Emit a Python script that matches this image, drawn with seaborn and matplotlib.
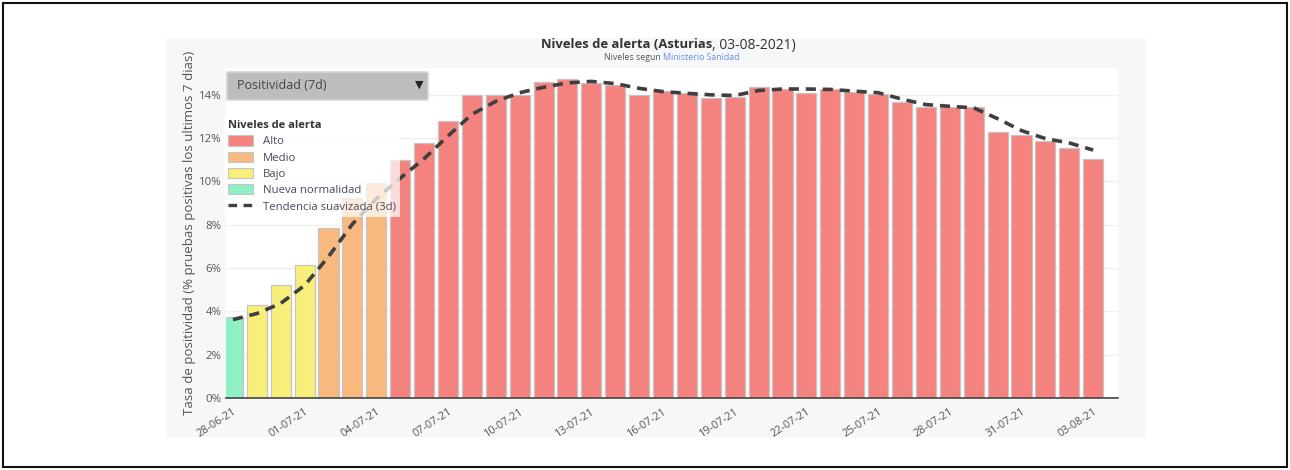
import numpy as np
import pandas as pd
import matplotlib
matplotlib.use("Agg")
import matplotlib.pyplot as plt
import seaborn as sns
from matplotlib.patches import Rectangle, Patch, FancyBboxPatch
from matplotlib.lines import Line2D

# ---------------- data ----------------
fechas = ["28-06-21", "29-06-21", "30-06-21"] + \
         [f"{d:02d}-07-21" for d in range(1, 32)] + \
         ["01-08-21", "02-08-21", "03-08-21"]

positividad = [3.76, 4.28, 5.20, 6.13, 7.85, 9.22, 9.95, 11.00, 11.76, 12.81,
               14.00, 14.00, 14.00, 14.58, 14.73, 14.53, 14.46, 14.00, 14.18, 14.07,
               13.84, 13.92, 14.38, 14.26, 14.07, 14.27, 14.15, 14.03, 13.67, 13.43,
               13.46, 13.43, 12.29, 12.13, 11.86, 11.56, 11.05]

tendencia = [3.62, 3.90, 4.37, 5.20, 6.53, 8.03, 9.20, 10.15, 11.05, 12.10,
             13.10, 13.70, 14.10, 14.35, 14.55, 14.62, 14.52, 14.30, 14.15, 14.07,
             14.00, 13.97, 14.20, 14.27, 14.27, 14.25, 14.17, 14.10, 13.80, 13.55,
             13.47, 13.40, 12.90, 12.35, 11.98, 11.78, 11.45]

niveles = ["Nueva normalidad"] + ["Bajo"] * 3 + ["Medio"] * 3 + ["Alto"] * 30

orden_niveles = ["Alto", "Medio", "Bajo", "Nueva normalidad"]
colores_niveles = ["#F4837F", "#F7B97D", "#F8EF7A", "#8EF0C4"]

xtick_idx = list(range(0, 37, 3))
yticks = [0, 2, 4, 6, 8, 10, 12, 14]
ytick_labels = [f"{v}%" for v in yticks]

# ---------------- figure ----------------
sns.set_theme(style="white")
plt.rcParams["font.family"] = ["Open Sans", "DejaVu Sans"]

W, H = 1290, 470
fig = plt.figure(figsize=(W / 100, H / 100), dpi=100)
fig.patch.set_facecolor("white")

def fx(x):
    return x / W

def fy(y):
    return 1 - y / H

# outer frame
fig.patches.append(Rectangle((fx(3), fy(467)), fx(1284), 464 / H, transform=fig.transFigure,
                             fill=False, edgecolor="#111111", lw=1.5, zorder=-2))
# panel background
fig.patches.append(Rectangle((fx(166), fy(437)), fx(980), 399 / H, transform=fig.transFigure,
                             facecolor="#F6F7F9", edgecolor="none", zorder=-2))

L, R, T, B = 226, 1118, 68, 398
ax = fig.add_axes([fx(L), fy(B), fx(R - L), (B - T) / H])
ax.set_zorder(1)
ax.set_facecolor("white")

df = pd.DataFrame({"fecha": fechas, "valor": positividad, "nivel": niveles})
palette = dict(zip(orden_niveles, colores_niveles))

sns.barplot(data=df, x="fecha", y="valor", hue="nivel", order=fechas,
            hue_order=orden_niveles, palette=palette, dodge=False, width=0.84,
            saturation=1, edgecolor="#C9C4C4", linewidth=0.9, legend=False, ax=ax,
            zorder=2)

sns.lineplot(x=np.arange(len(tendencia)), y=tendencia, ax=ax, color="#3F3F3F",
             lw=2.6, linestyle=(0, (2.8, 1.9)), zorder=3)

ax.set_xlim(-0.29, 37.04)
ax.set_ylim(0, 15.24)
ax.set_yticks(yticks)
ax.set_yticklabels(ytick_labels)
ax.set_xticks(xtick_idx)
ax.set_xticklabels([fechas[i] for i in xtick_idx], rotation=33, ha="right",
                   rotation_mode="anchor")
ax.tick_params(axis="x", length=0, pad=6, labelsize=7.8, labelcolor="#555555")
ax.tick_params(axis="y", length=0, pad=3, labelsize=8.2, labelcolor="#555555")
ax.grid(axis="y", color="#EEEEEE", lw=0.9, zorder=0)
ax.set_axisbelow(True)
for s in ["top", "right", "left"]:
    ax.spines[s].set_visible(False)
ax.spines["bottom"].set_color("#444444")
ax.spines["bottom"].set_linewidth(1.2)
ax.spines["bottom"].set_zorder(4)
ax.set_xlabel("")
ax.set_ylabel("Tasa de positividad (% pruebas positivas los ultimos 7 dias)",
              fontsize=9.5, color="#555555", labelpad=2)

# legend
handles = [Patch(facecolor=c, edgecolor="#C9C4C4", lw=0.8) for c in colores_niveles]
handles.append(Line2D([0], [0], color="#3F3F3F", lw=2.4, linestyle=(0, (2.6, 1.9))))
labels = orden_niveles + ["Tendencia suavizada (3d)"]
leg = ax.legend(handles, labels, title="Niveles de alerta", loc="upper left",
                bbox_to_anchor=(fx(224), fy(116)), bbox_transform=fig.transFigure,
                frameon=True, framealpha=0.72, facecolor="white", edgecolor="none",
                fancybox=False, fontsize=8.2, title_fontproperties={"weight": "bold", "size": 8},
                handlelength=2.2, handleheight=1.0, labelspacing=0.38, handletextpad=0.9,
                borderpad=0.35, borderaxespad=0)
leg._legend_box.align = "left"
for t in leg.get_texts():
    t.set_color("#4A4A5A")
leg.get_title().set_color("#333333")
leg.set_zorder(10)

# dropdown
fig.patches.append(FancyBboxPatch((fx(227), fy(100)), fx(201), 28 / H, transform=fig.transFigure,
                                  boxstyle="round,pad=0,rounding_size=0.002",
                                  facecolor="#BDBDBD", edgecolor="#D6D6D6", lw=1.2, zorder=20))
fig.text(fx(237), fy(86), "Positividad (7d)", fontsize=9, color="#444444",
         va="center", ha="left", zorder=21)
fig.text(fx(419), fy(85), "▼", fontsize=8, color="#222222", va="center", ha="center",
         family=["DejaVu Sans"], zorder=21)

# title
fig.text(fx(712), fy(45), "Niveles de alerta (Asturias", fontsize=9.4, weight="bold",
         color="#333333", ha="right", va="center")
fig.text(fx(712), fy(45), ", 03-08-2021)", fontsize=10, color="#333333",
         ha="left", va="center")
fig.text(fx(663), fy(57), "Niveles segun ", fontsize=6.3, color="#555555",
         ha="right", va="center")
fig.text(fx(663), fy(57), "Ministerio Sanidad", fontsize=6.3, color="#6A8CEB",
         ha="left", va="center")

fig.savefig("out.png", dpi=100)
